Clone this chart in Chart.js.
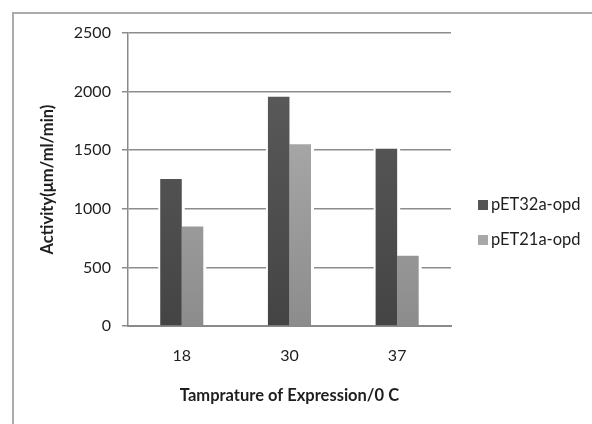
<!DOCTYPE html>
<html>
<head>
<meta charset="utf-8">
<script src="https://cdn.jsdelivr.net/npm/chart.js@4/dist/chart.umd.min.js"></script>
<style>
  html, body { margin: 0; padding: 0; background: #fff; overflow: hidden; }
  #wrap { position: relative; width: 592px; height: 424px; }
  #frame { position: absolute; left: 12px; top: 12px; width: 640px; height: 460px; border: 2px solid #ababab; }
  canvas { position: absolute; left: 0; top: 0; }
</style>
</head>
<body>
<div id="wrap">
  <div id="frame"></div>
  <canvas id="chart" width="592" height="424"></canvas>
</div>
<script>
const temperatures = ['18', '30', '37'];
const pET32aValues = [1255, 1955, 1512];
const pET21aValues = [848, 1550, 600];
const seriesNames = ['pET32a-opd', 'pET21a-opd'];
const yTicks = [0, 500, 1000, 1500, 2000, 2500];

const FONT = 'Lato, "Open Sans", sans-serif';
const TEXT = '#1e1e1e';

// colores de cada serie: arriba / abajo del degradado
const shades = [
    { top: '#5e5e5e', bottom: '#444444', legend: '#555555' },
    { top: '#b5b5b5', bottom: '#8c8c8c', legend: '#a8a8a8' }
];

function barGradient(ctx, idx) {
    const chart = ctx.chart;
    const area = chart.chartArea;
    if (!area) return shades[idx].legend;
    const g = chart.ctx.createLinearGradient(0, area.top, 0, area.bottom);
    g.addColorStop(0, shades[idx].top);
    g.addColorStop(1, shades[idx].bottom);
    return g;
}

// borra la rejilla alrededor de las barras (efecto de sombra de Excel)
const barGap = {
    id: 'barGap',
    beforeDatasetsDraw(chart) {
        const c = chart.ctx;
        c.save();
        c.fillStyle = '#ffffff';
        chart.data.datasets.forEach((ds, i) => {
            chart.getDatasetMeta(i).data.forEach(bar => {
                const w = bar.width;
                c.fillRect(bar.x - w / 2 - 2, bar.y - 2, w + 5, bar.base - bar.y + 1);
            });
        });
        c.restore();
    }
};

// leyenda a la derecha
const sideLegend = {
    id: 'sideLegend',
    afterDraw(chart) {
        const c = chart.ctx;
        c.save();
        c.font = '16.5px ' + FONT;
        c.textBaseline = 'middle';
        const rows = [205, 240];
        chart.data.datasets.forEach((ds, i) => {
            const y = rows[i];
            c.fillStyle = shades[i].legend;
            c.fillRect(478, y - 5, 10, 10);
            c.fillStyle = TEXT;
            c.fillText(ds.label, 491, y);
        });
        c.restore();
    }
};

new Chart(document.getElementById('chart'), {
    type: 'bar',
    data: {
        labels: temperatures,
        datasets: [
            { label: seriesNames[0], data: pET32aValues, backgroundColor: ctx => barGradient(ctx, 0) },
            { label: seriesNames[1], data: pET21aValues, backgroundColor: ctx => barGradient(ctx, 1) }
        ]
    },
    options: {
        responsive: false,
        animation: false,
        devicePixelRatio: 1,
        layout: { padding: { left: 25, right: 141, top: 33, bottom: 10 } },
        datasets: { bar: { categoryPercentage: 0.4, barPercentage: 1.0, borderWidth: 0 } },
        plugins: {
            legend: { display: false },
            tooltip: { enabled: false }
        },
        scales: {
            x: {
                grid: { display: false, drawTicks: false },
                border: { color: '#8a8a8a', width: 2 },
                ticks: { color: TEXT, font: { family: FONT, size: 16 }, padding: 20 },
                title: {
                    display: true,
                    text: 'Tamprature of Expression/0 C',
                    color: TEXT,
                    font: { family: FONT, size: 16.5, weight: 'bold' },
                    padding: { top: 1, bottom: 8 }
                }
            },
            y: {
                min: 0,
                max: 2500,
                afterBuildTicks: axis => { axis.ticks = yTicks.map(v => ({ value: v })); },
                grid: { color: '#8c8c8c', lineWidth: 1.5, tickLength: 6 },
                border: { color: '#8a8a8a', width: 1.5 },
                ticks: { color: TEXT, font: { family: FONT, size: 16 }, padding: 11, callback: v => String(v) },
                title: {
                    display: true,
                    text: 'Activity(μm/ml/min)',
                    color: TEXT,
                    font: { family: FONT, size: 16.5, weight: 'bold' },
                    padding: { top: 13, bottom: 5 }
                }
            }
        }
    },
    plugins: [barGap, sideLegend]
});
</script>
</body>
</html>
